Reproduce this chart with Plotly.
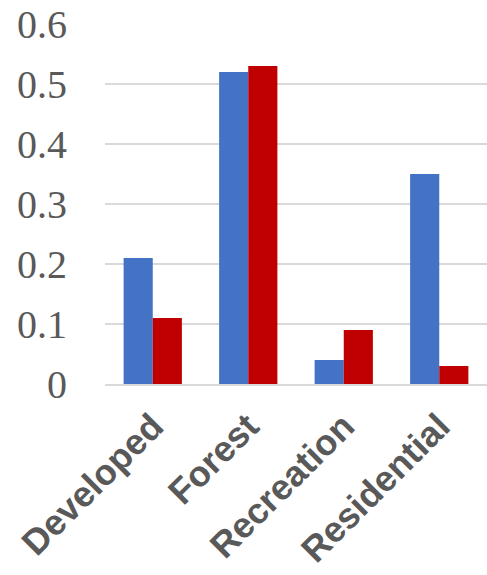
import plotly.graph_objects as go

categories = ["Developed", "Forest", "Recreation", "Residential"]
series_a = [0.21, 0.52, 0.04, 0.35]
series_b = [0.11, 0.53, 0.09, 0.03]
tick_vals = [0, 0.1, 0.2, 0.3, 0.4, 0.5, 0.6]
tick_text = ["0", "0.1", "0.2", "0.3", "0.4", "0.5", "0.6"]

fig = go.Figure()
fig.add_trace(go.Bar(x=categories, y=series_a, marker=dict(color="#4472C4", line=dict(width=0)), name="A"))
fig.add_trace(go.Bar(x=categories, y=series_b, marker=dict(color="#C00000", line=dict(width=0)), name="B"))

fig.update_layout(
    width=487, height=575,
    margin=dict(l=105, r=0, t=24, b=191, autoexpand=False),
    barmode="group", bargap=0.39, bargroupgap=0,
    showlegend=False,
    plot_bgcolor="white", paper_bgcolor="white",
)
fig.update_yaxes(
    range=[0, 0.6], tickvals=tick_vals, ticktext=tick_text,
    showgrid=True, gridcolor="#D9D9D9", gridwidth=1.5,
    zeroline=False, showline=False, automargin=False,
    tickfont=dict(family="Liberation Serif, Times New Roman, serif", size=40, color="#595959"),
    ticklabelstandoff=37,
)
fig.update_xaxes(
    showline=True, linecolor="#D9D9D9", linewidth=1.5, automargin=False,
    tickangle=-45, ticks="",
    tickfont=dict(family="Arial Black, Liberation Sans, Arial, sans-serif", size=36, color="#595959", weight="bold"),
    ticklabelstandoff=5,
)
fig.write_html(
    "out.html",
    config={"displayModeBar": False},
    post_script="document.body.style.margin='0';document.body.style.overflow='hidden';",
)
